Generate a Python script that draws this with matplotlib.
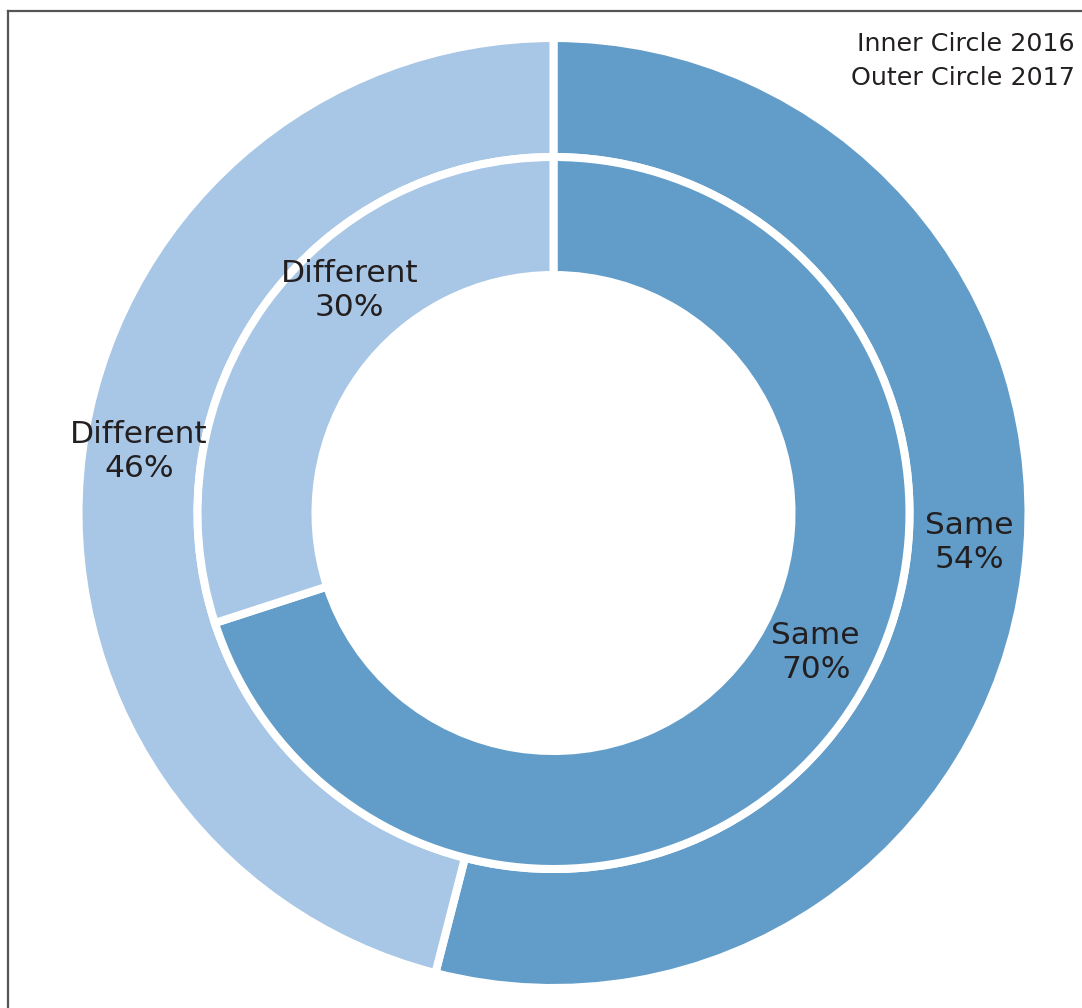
import matplotlib
matplotlib.use("Agg")
import matplotlib.pyplot as plt
from matplotlib.lines import Line2D
import numpy as np

categories = ["Same", "Different"]
inner_2016 = [70, 30]
outer_2017 = [54, 46]
legend_lines = ["Inner Circle 2016", "Outer Circle 2017"]

colors = ["#629dc9", "#a8c6e5"]
text_color = "#231f20"
font = ["DejaVu Sans"]

W, H = 1082, 1008
fig = plt.figure(figsize=(W / 100, H / 100), dpi=100)
ax = fig.add_axes([0, 0, 1, 1])

cx, cy = 553.5, H - 513
r_out, r_mid, r_in = 475, 356, 238
edge = dict(edgecolor="white", linewidth=5.8)

ax.pie(outer_2017, radius=r_out, center=(cx, cy), startangle=90, counterclock=False,
       colors=colors, wedgeprops=dict(width=r_out - r_mid, **edge), frame=True)
ax.pie(inner_2016, radius=r_mid, center=(cx, cy), startangle=90, counterclock=False,
       colors=colors, wedgeprops=dict(width=r_mid - r_in, **edge), frame=True)
ax.set_xlim(0, W)
ax.set_ylim(0, H)
ax.set_aspect("auto")
ax.axis("off")

# label placement: (radius, angle in degrees) for each ring/category
inner_pos = [(297, -28), (302, 132.5)]
outer_pos = [(417, -4), (419, 171.6)]
for vals, pos in ((inner_2016, inner_pos), (outer_2017, outer_pos)):
    for cat, v, (r, a) in zip(categories, vals, pos):
        x = cx + r * np.cos(np.radians(a))
        y = cy + r * np.sin(np.radians(a))
        ax.text(x, y, f"{cat}\n{v}%", ha="center", va="center", fontsize=22.5,
                color=text_color, family=font, linespacing=1.22)

ax.text(1075, H - 44, legend_lines[0], ha="right", va="center", fontsize=18.3,
        color=text_color, family=font)
ax.text(1075, H - 78, legend_lines[1], ha="right", va="center", fontsize=18.3,
        color=text_color, family=font)

# frame on the left and top
fig.add_artist(Line2D([7.5 / W, 7.5 / W], [0, 1 - 10.5 / H], transform=fig.transFigure,
                      color="#555555", linewidth=1.6, solid_capstyle="projecting"))
fig.add_artist(Line2D([7.5 / W, 1], [1 - 10.5 / H, 1 - 10.5 / H], transform=fig.transFigure,
                      color="#555555", linewidth=1.6, solid_capstyle="projecting"))

fig.savefig("out.png", dpi=100, facecolor="white")
